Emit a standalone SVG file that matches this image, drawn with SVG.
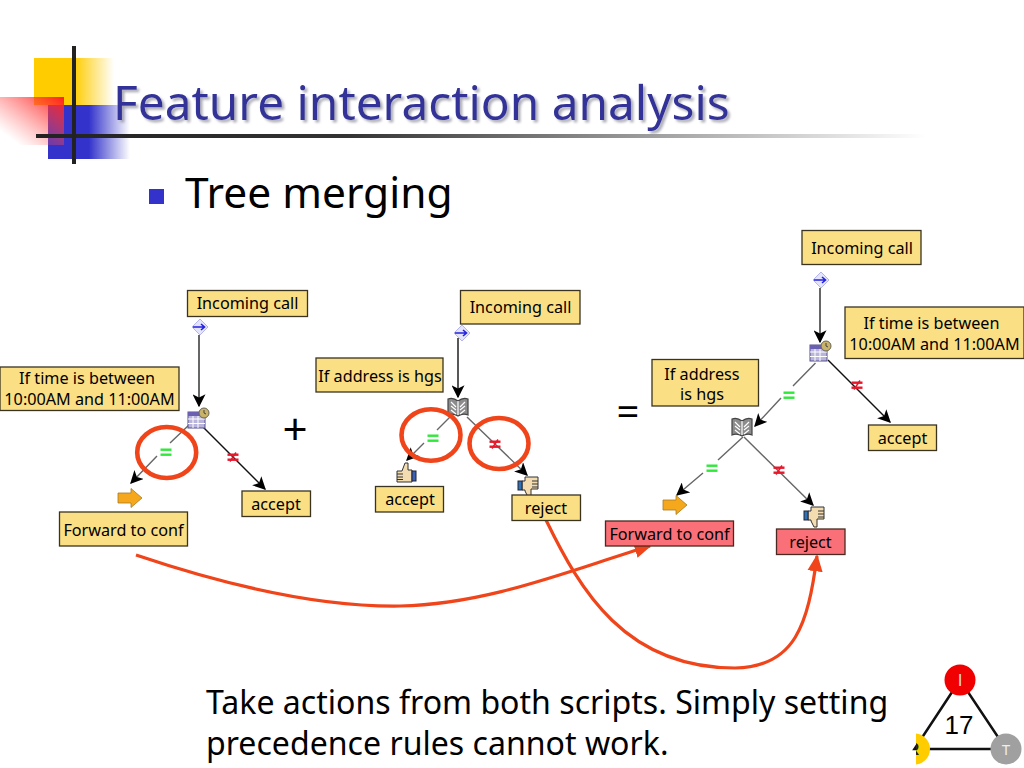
<svg xmlns="http://www.w3.org/2000/svg" width="1024" height="768" viewBox="0 0 1024 768">
<style>
text{font-family:"Noto Sans","Liberation Sans",Arial,sans-serif;fill:#000}
.box{fill:#fadf85;stroke:#3a3320;stroke-width:1.3}
.pink{fill:#fa7078;stroke:#4a2a20;stroke-width:1.3}
.l{font-size:16.2px;text-anchor:middle}
.c{fill:none;stroke:#111;stroke-width:1.4}
.g{fill:none;stroke:#666;stroke-width:1.4}
.t{fill:none;stroke:#666;stroke-width:2}
.ring{fill:none;stroke:#f0441a;stroke-width:4.6}
.arc{fill:none;stroke:#f0441a;stroke-width:3.2}
.eq{fill:#2fe83a}
.ne{fill:#e8182c}
#logo text{font-family:"Liberation Sans",Arial,sans-serif}
</style>
<defs>
<marker id="a" viewBox="0 0 10 10" refX="9" refY="5" markerWidth="13" markerHeight="13" markerUnits="userSpaceOnUse" orient="auto"><path d="M0 0L10 5L0 10L2.500 5Z" fill="#000"/></marker>
<marker id="o" viewBox="0 0 10 10" refX="9" refY="5" markerWidth="17" markerHeight="17" markerUnits="userSpaceOnUse" orient="auto"><path d="M0 0.500L10 5L0 9.500Z" fill="#f0441a"/></marker>
<linearGradient id="gy"><stop offset=".5" stop-color="#ffcc00"/><stop offset="1" stop-color="#ffcc00" stop-opacity="0"/></linearGradient>
<linearGradient id="gb"><stop offset=".5" stop-color="#3333cc"/><stop offset="1" stop-color="#3333cc" stop-opacity="0"/></linearGradient>
<linearGradient id="gr" x1="1" y1="0" x2="0" y2="1"><stop offset="0" stop-color="#ff1f1f"/><stop offset=".85" stop-color="#ff6060" stop-opacity="0"/></linearGradient>
<linearGradient id="gl"><stop offset="0" stop-color="#222"/><stop offset=".35" stop-color="#333"/><stop offset="1" stop-color="#333" stop-opacity="0"/></linearGradient>
<filter id="sh" x="-5%" y="-20%" width="110%" height="140%"><feDropShadow dx="2.500" dy="2.500" stdDeviation="1.200" flood-color="#9a9aa8" flood-opacity=".8"/></filter>
<clipPath id="cr"><rect x="916" y="725" width="20" height="43"/></clipPath>
<g id="cal"><rect x="-9" y="-7" width="17" height="16" fill="#b9b4dc" stroke="#55508f"/><rect x="-9" y="-7" width="17" height="4" fill="#6a5fb0"/><path d="M-9 0H8M-9 4.500H8M-4 -3V9M1 -3V9" stroke="#fff" stroke-width="1"/><circle cx="7" cy="-6" r="5" fill="#c9b26a" stroke="#665"/><path d="M7 -9V-6L9 -5" stroke="#444" fill="none"/></g>
<g id="book"><path d="M-10 -8Q-5 -10 0 -6Q5 -10 10 -8V8Q5 6 0 9Q-5 6 -10 8Z" fill="#8c8c8c" stroke="#444" stroke-width="1.200"/><path d="M0 -6V8M-7 -5L-2 0M-7 -1L-2 3M-7 3L-2 7M7 -5L2 0M7 -1L2 3M7 3L2 7" stroke="#fff" stroke-width="1.200" fill="none"/></g>
<g id="start"><path d="M0 -8L8 0L0 8L-8 0Z" fill="#e4e4fc" stroke="#b4b4f0"/><path d="M-7 0H4M1 -3L4.500 0L1 3" stroke="#2222dd" stroke-width="1.600" fill="none"/></g>
<g id="fw"><path d="M-12 -5H1V-9.500L12 0L1 9.500V5H-12Z" fill="#f5a81c" stroke="#a87a20" stroke-width=".8"/></g>
<g id="up"><path d="M-8 -2H-3L0 -10H3V-3H7V9H-8Z" fill="#f3dcb0" stroke="#333"/><path d="M-8 1H-2M-8 4H-2M-8 6.500H-2" stroke="#333" fill="none"/><rect x="7" y="-2" width="4" height="10" fill="#3a62b8" stroke="#223"/></g>
<g id="down"><path d="M10 -9H-3V-5H-6V4H-3V5L0 11H3V3H10Z" fill="#f3dcb0" stroke="#333"/><path d="M4 -5H10M4 -2H10M4 1H10" stroke="#333" fill="none"/><rect x="-10" y="-5" width="4" height="9" fill="#2f72b8" stroke="#223"/></g>
<g id="eq"><rect x="-5.500" y="-3.500" width="11" height="2.400" class="eq"/><rect x="-5.500" y="1.500" width="11" height="2.400" class="eq"/></g>
<g id="ne"><rect x="-5.500" y="-3.500" width="11" height="2.400" class="ne"/><rect x="-5.500" y="1.500" width="11" height="2.400" class="ne"/><path d="M-3 4.500L3 -4.500" stroke="#e8182c" stroke-width="1.500"/></g>
</defs>

<g id="template">
<rect x="34" y="58" width="80" height="47" fill="url(#gy)"/>
<rect x="48" y="105" width="82" height="54" fill="url(#gb)"/>
<rect x="0" y="97" width="64" height="48" fill="url(#gr)"/>
<rect x="36" y="134" width="890" height="4" fill="url(#gl)"/>
<rect x="72" y="46" width="4" height="118" fill="#222"/>
</g>
<g id="title">
<text x="113" y="120" font-size="47.800" style="fill:#333399" filter="url(#sh)">Feature interaction analysis</text>
</g>
<g id="bullet">
<rect x="149" y="189" width="15" height="15" fill="#3333cc"/>
<text x="185" y="208" font-size="42.500">Tree merging</text>
</g>

<g id="connectors">
<path class="t" d="M199 335V406" marker-end="url(#a)"/>
<path class="g" d="M189 425L170 443M157 456L131 483" marker-end="url(#a)"/>
<path class="c" d="M202 426L265 489" marker-end="url(#a)"/>
<path class="c" d="M458 338V397" marker-end="url(#a)"/>
<path class="g" d="M450 417L437 430M424 443L407 460" marker-end="url(#a)"/>
<path class="g" d="M467 417L527 475" marker-end="url(#a)"/>
<path class="t" d="M820 288V342" marker-end="url(#a)"/>
<path class="g" d="M815.500 363L793 386M781 398L755 426" marker-end="url(#a)"/>
<path class="c" d="M828 360L890 422" marker-end="url(#a)"/>
<path class="g" d="M743 437L718 460M703 473L677 495" marker-end="url(#a)"/>
<path class="g" d="M744 437L813 505" marker-end="url(#a)"/>
<path class="arc" d="M136 555C240 590 330 607 400 606C490 604 570 570 650 546" marker-end="url(#o)"/>
<path class="arc" d="M546 520C580 590 625 668 735 668C795 667 808 625 817 556" marker-end="url(#o)"/>
</g>

<g id="node-t1-start"><use href="#start" x="200" y="327"/></g>
<g id="node-t1-cond"><use href="#cal" x="197" y="419"/></g>
<g id="node-t1-eq"><use href="#eq" x="166" y="452"/></g>
<g id="node-t1-ne"><use href="#ne" x="233" y="457"/></g>
<g id="node-t1-fw"><use href="#fw" x="130" y="498"/></g>
<g id="node-t1-incoming"><rect class="box" x="187.500" y="290.500" width="120" height="26"/><text class="l" x="247.500" y="309">Incoming call</text></g>
<g id="node-t1-time"><rect class="box" x="0" y="367" width="179" height="43.500"/><text class="l" x="87" y="384">If time is between</text><text class="l" x="89.500" y="405">10:00AM and 11:00AM</text></g>
<g id="node-t1-accept"><rect class="box" x="242" y="491" width="68.500" height="25.500"/><text class="l" x="276" y="510">accept</text></g>
<g id="node-t1-fwd"><rect class="box" x="59.500" y="512" width="128" height="34"/><text class="l" x="123.500" y="536">Forward to conf</text></g>
<text x="295" y="445" font-size="44" text-anchor="middle">+</text>

<g id="node-t2-start"><use href="#start" x="462" y="333"/></g>
<g id="node-t2-cond"><use href="#book" x="458" y="407"/></g>
<g id="node-t2-eq"><use href="#eq" x="433" y="438"/></g>
<g id="node-t2-ne"><use href="#ne" x="495" y="444"/></g>
<g id="node-t2-up"><use href="#up" x="405" y="473"/></g>
<g id="node-t2-down"><use href="#down" x="528" y="486"/></g>
<g id="node-t2-incoming"><rect class="box" x="460.500" y="290.500" width="119.500" height="33.500"/><text class="l" x="520.500" y="313">Incoming call</text></g>
<g id="node-t2-addr"><rect class="box" x="316" y="358" width="127" height="34"/><text class="l" x="380" y="381.500">If address is hgs</text></g>
<g id="node-t2-accept"><rect class="box" x="375.500" y="486.500" width="68" height="25.500"/><text class="l" x="410" y="505">accept</text></g>
<g id="node-t2-reject"><rect class="box" x="512" y="495" width="68.500" height="25.500"/><text class="l" x="546" y="514">reject</text></g>
<text x="628" y="426" font-size="40" text-anchor="middle">=</text>

<g id="node-t3-start"><use href="#start" x="821" y="280"/></g>
<g id="node-t3-cond"><use href="#cal" x="819" y="352"/></g>
<g id="node-t3-book"><use href="#book" x="742" y="427"/></g>
<g id="node-t3-eq1"><use href="#eq" x="789" y="395"/></g>
<g id="node-t3-ne1"><use href="#ne" x="857" y="385"/></g>
<g id="node-t3-eq2"><use href="#eq" x="712" y="468"/></g>
<g id="node-t3-ne2"><use href="#ne" x="779" y="470"/></g>
<g id="node-t3-fw"><use href="#fw" x="675" y="505"/></g>
<g id="node-t3-down"><use href="#down" x="814" y="516"/></g>
<g id="node-t3-incoming"><rect class="box" x="802" y="230.500" width="119" height="34"/><text class="l" x="862" y="254">Incoming call</text></g>
<g id="node-t3-time"><rect class="box" x="845" y="307" width="179" height="51.500"/><text class="l" x="931.500" y="329">If time is between</text><text class="l" x="934.500" y="350">10:00AM and 11:00AM</text></g>
<g id="node-t3-addr"><rect class="box" x="652" y="359.500" width="106.500" height="46.500"/><text class="l" x="702" y="380">If address</text><text class="l" x="702" y="400">is hgs</text></g>
<g id="node-t3-accept"><rect class="box" x="868.500" y="425" width="68" height="25.500"/><text class="l" x="902.500" y="444">accept</text></g>
<g id="node-t3-fwd"><rect class="pink" x="605.500" y="521" width="128" height="25"/><text class="l" x="669.500" y="540">Forward to conf</text></g>
<g id="node-t3-reject"><rect class="pink" x="776.500" y="529" width="68.500" height="25.500"/><text class="l" x="810.500" y="548">reject</text></g>

<g id="rings">
<ellipse class="ring" cx="166.700" cy="452.500" rx="29.500" ry="25.500"/>
<ellipse class="ring" cx="431" cy="435" rx="29.500" ry="25.700"/>
<ellipse class="ring" cx="499" cy="443.500" rx="29.500" ry="25.500"/>
</g>

<g id="caption">
<text x="206" y="714" font-size="32.100">Take actions from both scripts. Simply setting</text>
<text x="206" y="755" font-size="32.100">precedence rules cannot work.</text>
</g>

<g id="logo">
<path d="M960 680L914.500 749H1006Z" fill="none" stroke="#111" stroke-width="2.500"/>
<g clip-path="url(#cr)">
<circle cx="914.500" cy="749" r="15.500" fill="#ffcc00"/>
<text x="907" y="755" font-size="17" style="fill:#222;font-weight:bold">R</text>
</g>
<circle cx="960" cy="680" r="15.500" fill="#f00000"/>
<text x="960" y="686" font-size="17" text-anchor="middle" style="fill:#f5d0d0">I</text>
<circle cx="1006" cy="749" r="15.500" fill="#a0a0a0"/>
<text x="1006" y="755" font-size="14" text-anchor="middle" style="fill:#eee">T</text>
<text x="959" y="734" font-size="26" text-anchor="middle">17</text>
</g>
</svg>
